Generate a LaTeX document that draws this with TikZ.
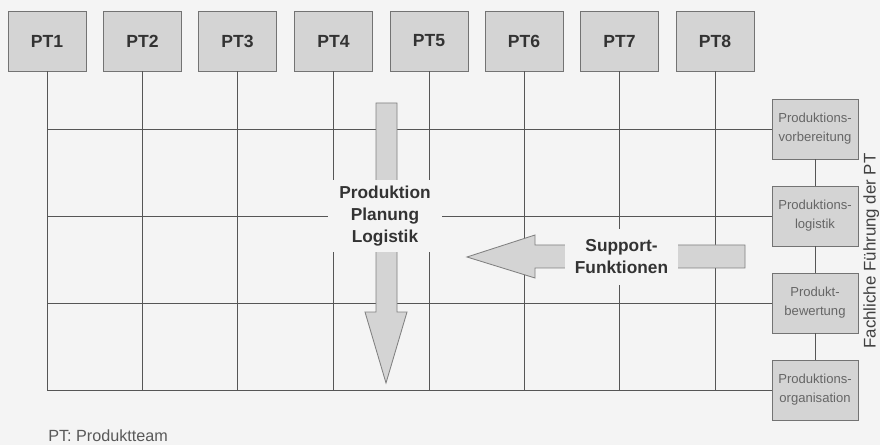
\documentclass[tikz,border=0pt]{standalone}
\usepackage{fontspec}
\setmainfont{Liberation Sans}

\definecolor{bg}{HTML}{F4F4F4}
\definecolor{boxgray}{HTML}{D4D4D4}
\definecolor{linegray}{HTML}{555555}

\tikzset{
  ptbox/.style={draw=black!55, fill=boxgray, minimum width=1.95cm, minimum height=1.5cm,
    font=\fontsize{12.5}{15}\selectfont\bfseries, text=black!80},
  funcbox/.style={draw=black!55, fill=boxgray, minimum width=2.15cm, minimum height=1.5cm,
    align=center, font=\fontsize{9.3}{13.5}\selectfont, text=black!60},
  gridline/.style={draw=linegray, line width=0.7pt},
  bigarrow/.style={draw=black!50, fill=boxgray, line width=0.6pt},
  mask/.style={fill=bg, inner sep=0pt, align=center,
    font=\fontsize{12.3}{15.6}\selectfont\bfseries, text=black!80}
}

\begin{document}
\begin{tikzpicture}[x=0.025cm, y=-0.025cm]

\fill[bg] (0,0) rectangle (880,445);
\useasboundingbox (0,0) rectangle (880,445);

% nodes
\node[ptbox] (PT1) at (47,41) {PT1};
\node[ptbox] (PT2) at (142.5,41) {PT2};
\node[ptbox] (PT3) at (237.5,41) {PT3};
\node[ptbox] (PT4) at (333.5,41) {PT4};
\node[ptbox] (PT5) at (429,41) {PT5};
\node[ptbox] (PT6) at (524,41) {PT6};
\node[ptbox] (PT7) at (619.5,41) {PT7};
\node[ptbox] (PT8) at (715,41) {PT8};

\node[funcbox] (vorb) at (815,129) {Produktions-\\vorbereitung};
\node[funcbox] (logi) at (815,216) {Produktions-\\logistik};
\node[funcbox] (bew) at (815,303) {Produkt-\\bewertung};
\node[funcbox] (org) at (815,390) {Produktions-\\organisation};

% grid
\draw[gridline] (PT1.south) -- (PT1.south |- org.center);
\draw[gridline] (PT2.south) -- (PT2.south |- org.center);
\draw[gridline] (PT3.south) -- (PT3.south |- org.center);
\draw[gridline] (PT4.south) -- (PT4.south |- org.center);
\draw[gridline] (PT5.south) -- (PT5.south |- org.center);
\draw[gridline] (PT6.south) -- (PT6.south |- org.center);
\draw[gridline] (PT7.south) -- (PT7.south |- org.center);
\draw[gridline] (PT8.south) -- (PT8.south |- org.center);

\draw[gridline] (PT1.south |- vorb) -- (vorb);
\draw[gridline] (PT1.south |- logi) -- (logi);
\draw[gridline] (PT1.south |- bew) -- (bew);
\draw[gridline] (PT1.south |- org) -- (org);

\draw[gridline] (vorb) -- (logi);
\draw[gridline] (logi) -- (bew);
\draw[gridline] (bew) -- (org);

% arrows
\draw[bigarrow] (376,103) -- (397,103) -- (397,312) -- (407,312) -- (386,383)
  -- (365,312) -- (376,312) -- cycle;
\draw[bigarrow] (745,245) -- (535,245) -- (535,235) -- (467,257) -- (535,278)
  -- (535,268) -- (745,268) -- cycle;

\node[mask, minimum width=2.85cm, minimum height=1.8cm] (plan) at (385,216)
  {Produktion\\Planung\\Logistik};
\node[mask, minimum width=2.83cm, minimum height=1.4cm] (support) at (621.5,257)
  {Support-\\Funktionen};

% labels
\node[rotate=90, anchor=base, inner sep=0pt, font=\fontsize{12}{14}\selectfont, text=black!75]
  (fuehrung) at (875.5,251) {Fachliche Führung der PT};
\node[anchor=base west, inner sep=0pt, font=\fontsize{11.5}{14}\selectfont, text=black!65]
  (legend) at (48,441) {PT: Produktteam};

\end{tikzpicture}
\end{document}
